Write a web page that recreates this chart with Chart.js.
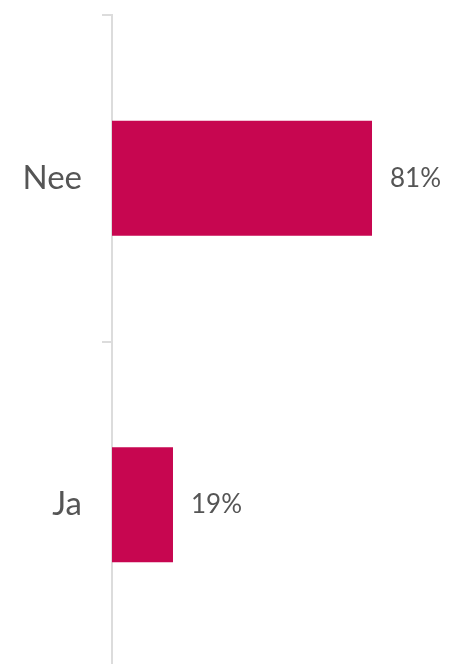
<!DOCTYPE html>
<html>
<head>
<meta charset="utf-8">
<script src="https://cdn.jsdelivr.net/npm/chart.js@4"></script>
<style>
  html, body { margin:0; padding:0; background:#fff; overflow:hidden; }
  #wrap { width:471px; height:668px; position:relative; }
</style>
</head>
<body>
<div id="wrap"><canvas id="chart"></canvas></div>
<script>
/* ---------- data ---------- */
const categories = ['Nee', 'Ja'];
const percentages = [81, 19];
const valueLabels = ['81%', '19%'];

const BAR_COLOR = '#c70650';
const TEXT_COLOR = '#555555';
const AXIS_COLOR = '#dcdcdc';

// draws the "81%" style labels just past the end of each bar
const valueLabelPlugin = {
  id: 'valueLabels',
  afterDatasetsDraw(chart){
    const ctx = chart.ctx;
    const meta = chart.getDatasetMeta(0);
    ctx.save();
    ctx.font = '26px Lato, "Open Sans", sans-serif';
    ctx.fillStyle = TEXT_COLOR;
    ctx.textAlign = 'left';
    ctx.textBaseline = 'middle';
    meta.data.forEach((bar, i) => {
      ctx.fillText(valueLabels[i], bar.x + 18, bar.y);
    });
    ctx.restore();
  }
};

new Chart(document.getElementById('chart'), {
  type: 'bar',
  data: {
    labels: categories,
    datasets: [{
      data: percentages,
      backgroundColor: BAR_COLOR,
      borderWidth: 0,
      barPercentage: 0.352,
      categoryPercentage: 1
    }]
  },
  options: {
    indexAxis: 'y',
    responsive: true,
    maintainAspectRatio: false,
    animation: false,
    layout: { padding: { top: 15, right: 38, bottom: 0, left: 0 } },
    plugins: { legend: { display:false }, tooltip: { enabled:false } },
    scales: {
      x: { display:false, min:0, max:100 },
      y: {
        // fixed axis position; no extra room for half label heights
        afterFit: (scale) => {
          scale.width = 112;
          scale.paddingTop = 0;
          scale.paddingBottom = 0;
        },
        grid: {
          offset: true,
          drawOnChartArea: false,
          drawTicks: true,
          tickLength: 10,
          color: AXIS_COLOR,
          lineWidth: 2
        },
        border: { display:true, color: AXIS_COLOR, width: 2 },
        ticks: {
          padding: 20,
          color: TEXT_COLOR,
          font: { family: 'Lato, "Open Sans", sans-serif', size: 33 }
        }
      }
    }
  },
  plugins: [valueLabelPlugin]
});
</script>
</body>
</html>
